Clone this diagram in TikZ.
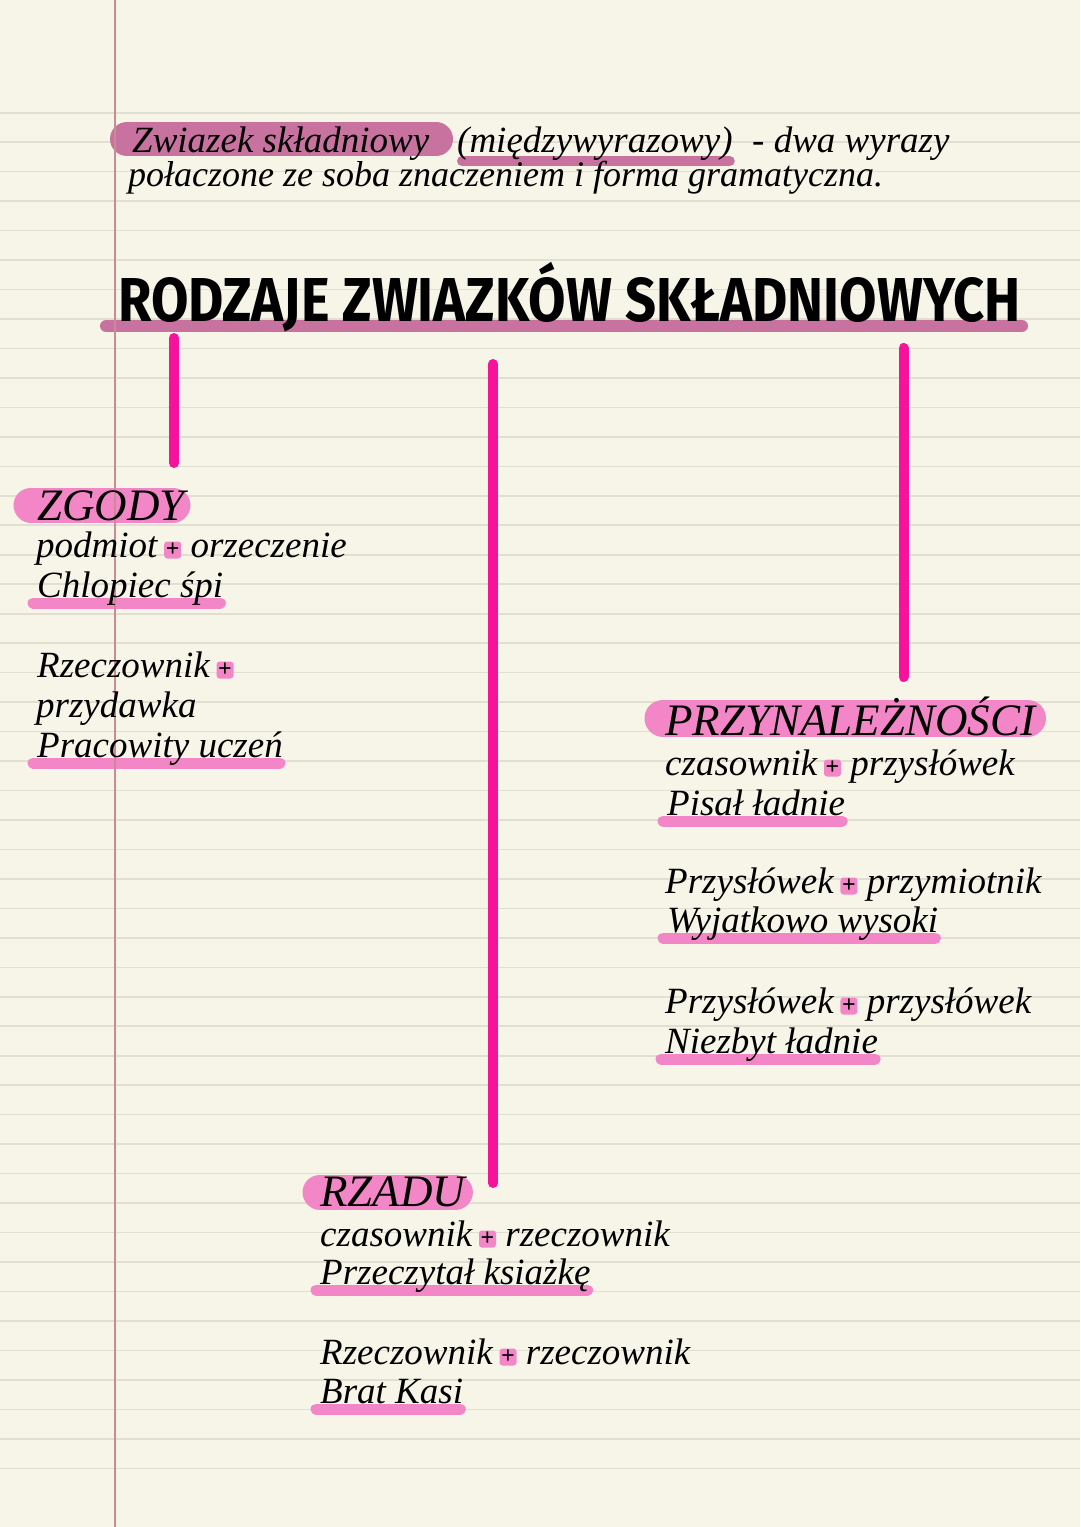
\documentclass[tikz,border=0pt]{standalone}
\usepackage{fontspec}
\setmainfont{Liberation Serif}
\newfontfamily\titlefont{Fira Sans}[FakeStretch=0.875]
\usetikzlibrary{calc}

\definecolor{paper}{HTML}{F7F4E8}
\definecolor{ruling}{HTML}{E1DFD2}
\definecolor{marginred}{HTML}{CC8A95}
\definecolor{mauve}{HTML}{C8729F}
\definecolor{hlpink}{HTML}{F386C6}
\definecolor{linkpink}{HTML}{F7129B}

\pgfdeclarelayer{paperlayer}
\pgfdeclarelayer{marks}
\pgfsetlayers{paperlayer,marks,main}

\tikzset{
  txt/.style={inner sep=0pt, anchor=base west, font=\fontsize{37}{40}\selectfont\itshape},
  head/.style={txt, font=\fontsize{45}{48}\selectfont\itshape},
  plusbox/.style={fill=hlpink, rounded corners=3pt, inner sep=0pt,
    minimum width=17pt, minimum height=17pt, font=\fontsize{24}{24}\selectfont\bfseries},
  pill/.style={line width=35pt, line cap=round, draw=hlpink},
  uline/.style={line width=11pt, line cap=round, draw=hlpink},
  branch/.style={line width=10pt, line cap=round, draw=linkpink},
}

\begin{document}
\begin{tikzpicture}[x=1pt,y=-1pt]
\useasboundingbox (0,0) rectangle (1080,1527);

% paper
\begin{pgfonlayer}{paperlayer}
\fill[paper] (0,0) rectangle (1080,1527);
\foreach \k in {0,...,46}
  \draw[ruling, line width=1.6pt] (0,112.7+29.47*\k) -- (1080,112.7+29.47*\k);
\end{pgfonlayer}

% definition
\node[txt] (defA) at (132,152) {Zwiazek składniowy};
\node[txt] (defB) at (457,152) {(międzywyrazowy)};
\node[txt] (defC) at (752,152) {- dwa wyrazy};
\node[txt, font=\fontsize{36}{40}\selectfont\itshape] (defD) at (128,186) {połaczone ze soba znaczeniem i forma gramatyczna.};

% title
\node[inner sep=0pt, anchor=base west, font=\titlefont\bfseries\fontsize{62}{64}\selectfont] (title) at (118,321) {RODZAJE ZWIAZKÓW SKŁADNIOWYCH};
\coordinate (barL) at (106,326);
\coordinate (barR) at (1022,326);

% ZGODY
\node[head] (zg) at (37,520) {ZGODY};
\node[txt] (zg1a) at (36,557) {podmiot};
\node[plusbox] (zg1p) at ($(zg1a.base east)+(15,-7)$) {+};
\node[txt, xshift=9pt] (zg1b) at (zg1p.east |- zg1a.base) {orzeczenie};
\node[txt] (zg1c) at (37,597) {Chlopiec śpi};
\node[txt] (zg2a) at (37,677) {Rzeczownik};
\node[plusbox] (zg2p) at ($(zg2a.base east)+(15,-7)$) {+};
\node[txt] (zg2b) at (36,717) {przydawka};
\node[txt] (zg2c) at (37,757) {Pracowity uczeń};

% PRZYNALEZNOSCI
\node[head] (pr) at (665,735) {PRZYNALEŻNOŚCI};
\node[txt] (pr1a) at (665,775) {czasownik};
\node[plusbox] (pr1p) at ($(pr1a.base east)+(15,-7)$) {+};
\node[txt, xshift=9pt] (pr1b) at (pr1p.east |- pr1a.base) {przysłówek};
\node[txt] (pr1c) at (667,815) {Pisał ładnie};
\node[txt] (pr2a) at (665,893) {Przysłówek};
\node[plusbox] (pr2p) at ($(pr2a.base east)+(15,-7)$) {+};
\node[txt, xshift=9pt] (pr2b) at (pr2p.east |- pr2a.base) {przymiotnik};
\node[txt] (pr2c) at (667,932) {Wyjatkowo wysoki};
\node[txt] (pr3a) at (665,1013) {Przysłówek};
\node[plusbox] (pr3p) at ($(pr3a.base east)+(15,-7)$) {+};
\node[txt, xshift=9pt] (pr3b) at (pr3p.east |- pr3a.base) {przysłówek};
\node[txt] (pr3c) at (665,1053) {Niezbyt ładnie};

% RZADU
\node[head] (rz) at (320,1206) {RZADU};
\node[txt] (rz1a) at (320,1246) {czasownik};
\node[plusbox] (rz1p) at ($(rz1a.base east)+(15,-7)$) {+};
\node[txt, xshift=9pt] (rz1b) at (rz1p.east |- rz1a.base) {rzeczownik};
\node[txt] (rz1c) at (320,1284) {Przeczytał ksiażkę};
\node[txt] (rz2a) at (320,1364) {Rzeczownik};
\node[plusbox] (rz2p) at ($(rz2a.base east)+(15,-7)$) {+};
\node[txt, xshift=9pt] (rz2b) at (rz2p.east |- rz2a.base) {rzeczownik};
\node[txt] (rz2c) at (320,1403) {Brat Kasi};

% highlights
\begin{pgfonlayer}{marks}
\draw[pill, draw=mauve, line width=34pt] ($(defA.base west)+(-5,-13)$) -- ($(defB.base west)+(-21,-13)$);
\draw[uline, draw=mauve, line width=10pt] ($(defB.base west)+(5,9)$) -- ($(defB.base east)+(-3,9)$);
\draw[line width=12pt, line cap=round, draw=mauve] (barL) -- (barR);
\draw[pill] ($(zg.base west)+(-6,-15)$) -- ($(zg.base east)+(-12,-15)$);
\draw[pill, line width=37pt] ($(pr.base west)+(-2,-17)$) -- ($(pr.base east)+(-8,-17)$);
\draw[pill] ($(rz.base west)+(0,-14)$) -- ($(rz.base east)+(-10,-14)$);
\foreach \u in {zg1c,zg2c,pr1c,pr2c,pr3c,rz1c,rz2c}
  \draw[uline] ($(\u.base west)+(-4,6)$) -- ($(\u.base east)+(-3,6)$);
\draw[marginred, line width=2pt] (115,0) -- (115,1527);
\end{pgfonlayer}

% branches
\coordinate (zgTop) at (174,338);
\coordinate (zgEnd) at (174,463);
\coordinate (rzTop) at (493,364);
\coordinate (rzEnd) at (493,1183);
\coordinate (prTop) at (903.5,348);
\coordinate (prEnd) at (903.5,677);
\draw[branch] (zgTop) -- (zgEnd);
\draw[branch] (rzTop) -- (rzEnd);
\draw[branch] (prTop) -- (prEnd);
\end{tikzpicture}
\end{document}
